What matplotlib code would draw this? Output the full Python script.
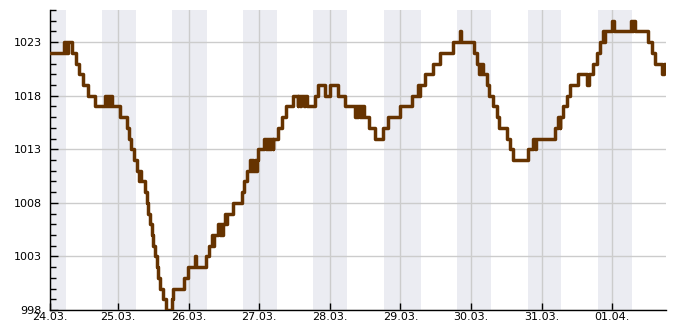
import matplotlib
matplotlib.use("Agg")
import matplotlib.pyplot as plt

# Luftdruck (hPa), Stunden seit 24.03. 00:00, Wert gilt ab diesem Zeitpunkt
hours = [
    0, 5.6, 5.9, 6.2, 6.5, 6.8, 8.2, 9.5, 10.8, 12.0, 13.7, 16.1,
    19.6, 19.9, 20.2, 20.6, 20.9, 21.3, 21.6, 22.0,
    24.6, 26.9, 27.7, 28.3, 29.5, 30.3, 31.1, 31.4, 31.7,
    33.1, 33.7, 34.2, 34.8, 35.4, 35.9, 36.5, 37.1, 37.6, 38.2, 39.3, 40.1,
    42.2, 42.7, 46.4, 47.6,
    50.1, 50.4, 53.7, 54.9, 55.8, 56.2, 56.6, 58.0,
    58.6, 59.0, 59.4, 59.8, 60.2, 60.5, 60.9,
    63.1, 66.0, 66.9, 67.7,
    68.8, 69.2, 69.6, 70.0, 70.4, 70.7, 71.1, 71.4,
    73.7, 74.1, 74.5, 74.9, 75.3, 75.7, 76.1, 76.5, 76.8,
    78.4, 79.6, 81.0,
    83.5, 85.0, 85.3, 85.7, 86.2, 87.2, 87.5, 88.2,
    90.9, 92.0, 94.3, 96.0, 98.8, 101.1,
    104.5, 104.9, 105.3, 105.7, 106.1, 106.5, 106.9, 107.3, 107.7,
    109.3, 111.3, 114.2, 115.9, 119.8, 123.8,
    126.0, 126.4, 126.8, 128.3, 131.2, 133.4, 138.0, 140.3, 140.6,
    145.1, 145.9, 146.7, 147.1, 147.5, 147.8, 148.2,
    149.3, 150.1, 151.6, 152.7, 153.6, 156.1, 157.2, 158.4,
    163.5, 165.2, 165.6, 166.0,
    172.6, 173.7, 174.1, 174.4, 175.4, 176.5, 177.7,
    180.5, 183.3, 184.1, 185.6, 186.7, 187.8,
    189.0, 189.3, 189.6, 192.1, 192.5,
    198.4, 198.8, 199.1, 199.6,
    204.3, 205.4, 206.5, 209.0, 209.5, 210.3,
]
pressure = [
    1022, 1023, 1022, 1023, 1022, 1023, 1022, 1021, 1020, 1019, 1018, 1017,
    1018, 1017, 1018, 1017, 1018, 1017, 1018, 1017,
    1016, 1015, 1014, 1013, 1012, 1011, 1010, 1011, 1010,
    1009, 1008, 1007, 1006, 1005, 1004, 1003, 1002, 1001, 1000, 999, 998,
    999, 1000, 1001, 1002,
    1003, 1002, 1003, 1004, 1005, 1004, 1005, 1006,
    1005, 1006, 1005, 1006, 1007, 1006, 1007,
    1008, 1009, 1010, 1011,
    1012, 1011, 1012, 1011, 1012, 1011, 1012, 1013,
    1014, 1013, 1014, 1013, 1014, 1013, 1014, 1013, 1014,
    1015, 1016, 1017,
    1018, 1017, 1018, 1017, 1018, 1017, 1018, 1017,
    1018, 1019, 1018, 1019, 1018, 1017,
    1016, 1017, 1016, 1017, 1016, 1017, 1016, 1017, 1016,
    1015, 1014, 1015, 1016, 1017, 1018,
    1019, 1018, 1019, 1020, 1021, 1022, 1023, 1024, 1023,
    1022, 1021, 1020, 1021, 1020, 1021, 1020,
    1019, 1018, 1017, 1016, 1015, 1014, 1013, 1012,
    1013, 1014, 1013, 1014,
    1015, 1016, 1015, 1016, 1017, 1018, 1019,
    1020, 1019, 1020, 1021, 1022, 1023,
    1024, 1023, 1024, 1025, 1024,
    1025, 1024, 1025, 1024,
    1023, 1022, 1021, 1020, 1021, 1021,
]

# Nachtstunden (Beginn, Ende) in Stunden
night_start = [0, 18.5, 42.3, 66.4, 90.2, 114.4, 139.2, 163.4, 187.2]
night_end = [6.1, 29.9, 54.1, 77.9, 101.7, 126.9, 150.7, 174.5, 198.6]

day_ticks = [0.8, 24, 48, 72, 96, 120, 144, 168, 192]
day_labels = ["24.03.", "25.03.", "26.03.", "27.03.", "28.03.",
              "29.03.", "30.03.", "31.03.", "01.04."]

fig = plt.figure(figsize=(6.85, 3.3), dpi=100)
ax = fig.add_axes([50 / 685, 20 / 330, 616 / 685, 300 / 330])

for s, e in zip(night_start, night_end):
    ax.axvspan(s, e, color="#ebecf2", lw=0, zorder=0)

ax.plot(hours, pressure, drawstyle="steps-post", color="#663300",
        lw=2.5, zorder=3)

ax.set_xlim(0.8, 210.3)
ax.set_ylim(998, 1026)
ax.set_xticks(day_ticks)
ax.set_xticklabels(day_labels)
ax.set_yticks(range(998, 1024, 5))
ax.set_yticks(range(998, 1027), minor=True)

ax.set_axisbelow(True)
ax.grid(True, which="major", color="#cccccc", lw=1)

for side in ["top", "right"]:
    ax.spines[side].set_visible(False)
ax.spines["left"].set_linewidth(1)
ax.spines["bottom"].set_linewidth(1)

ax.tick_params(axis="y", which="major", direction="in", length=6, width=1,
               labelsize=8, pad=6)
ax.tick_params(axis="y", which="minor", direction="in", length=4, width=1)
ax.tick_params(axis="x", direction="in", length=5, width=1,
               labelsize=8, pad=1.5)

fig.savefig("out.png", dpi=100)
